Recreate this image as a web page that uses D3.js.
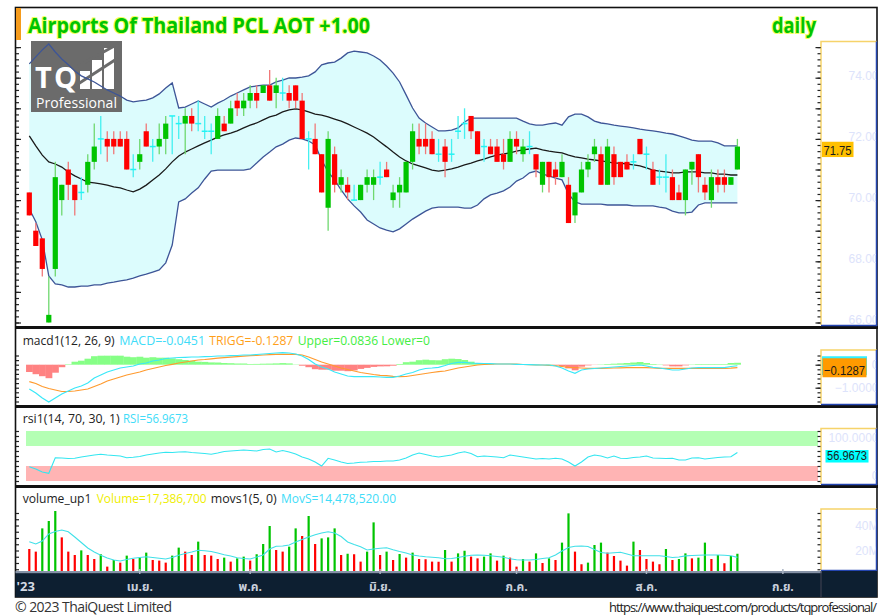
<!DOCTYPE html>
<html>
<head>
<meta charset="utf-8">
<script src="https://cdn.jsdelivr.net/npm/d3@7"></script>
<style>
  body { margin: 0; background: #fff; }
  svg { display: block; font-family: "Open Sans", "Noto Sans", sans-serif; }
</style>
</head>
<body>
<svg id="chart" width="882" height="616"></svg>
<script>
const svg = d3.select('#chart');

// ---- Dados
const openP = [70.25,69.0,68.75,66.0,67.75,70.0,71.0,70.5,70.25,70.5, 71.25,72.0,72.0,72.0,72.0,72.0,71.0,71.25,72.25,71.75,
  71.75,72.0,72.75,72.5,72.5,72.75,72.5,72.25,72.25,72.0, 72.5,72.5,73.25,73.0,73.25,73.5,73.5,73.75,73.5,73.5,
  73.5,73.75,73.25,72.0,72.0,71.5,69.75,71.5,70.5,70.5, 70.0,70.0,70.5,70.5,70.75,71.0,70.0,70.25,70.25,71.25,
  72.0,72.0,72.0,71.5,71.75,71.5,72.25,72.5,72.75,72.25, 71.75,71.75,71.75,71.5,71.25,72.0,71.5,71.75,71.5,70.5,
  71.25,71.0,70.75,70.5,69.5,70.25,71.0,71.5,71.5,70.5, 71.5,71.25,71.25,71.25,72.0,71.5,71.0,70.75,70.75,70.75,
  70.25,70.0,71.0,71.5,70.5,70.0,70.75,70.75,70.5,71.0];
const highP = [70.25,69.25,68.75,67.5,71.25,70.5,71.25,70.5,70.75,71.5, 72.5,72.75,72.25,72.25,72.25,72.25,71.5,72.0,72.5,72.0,
  72.5,72.75,72.75,72.75,73.0,73.0,73.25,72.75,72.5,73.0, 72.75,73.25,73.5,73.5,73.75,73.75,73.75,74.25,74.0,74.0,
  73.75,73.75,73.5,72.25,72.5,71.5,72.25,71.75,71.0,70.75, 70.5,70.5,71.0,71.0,71.25,71.25,70.5,70.75,71.25,72.5,
  72.5,72.5,72.25,72.0,72.0,72.0,72.75,73.0,72.75,72.25, 72.0,72.0,72.0,72.0,72.25,72.25,72.0,72.25,71.5,71.25,
  71.25,71.25,71.5,70.75,70.25,71.25,71.5,72.0,71.75,72.0, 71.75,71.25,71.5,71.5,72.0,71.75,71.25,71.0,71.5,71.0,
  70.5,71.0,71.25,71.5,70.75,71.0,71.0,71.0,70.75,72.0];
const lowP = [69.5,68.5,67.5,66.0,67.5,69.5,70.0,69.5,70.0,70.25, 71.0,71.5,71.25,71.5,71.75,71.0,70.75,71.0,71.75,71.25,
  71.5,71.5,71.5,72.0,71.5,72.25,72.25,72.0,71.5,72.0, 72.25,72.5,72.75,72.75,73.0,73.0,73.5,73.25,73.0,73.25,
  73.0,73.0,72.0,71.0,71.5,70.25,69.0,70.25,70.25,70.0, 70.0,70.0,70.25,70.0,70.5,70.75,69.75,69.75,70.25,71.0,
  71.5,71.5,71.5,71.25,70.75,71.25,72.0,72.0,72.0,71.5, 71.25,71.5,71.25,71.0,71.25,71.5,71.25,71.5,70.75,70.25,
  70.25,70.5,70.75,69.25,69.25,70.25,70.75,71.25,70.5,70.5, 70.5,70.75,71.0,71.0,71.5,71.0,70.5,70.5,70.25,70.0,
  70.0,69.5,70.5,70.25,70.0,69.75,70.25,70.25,70.5,71.0];
const closeP = [69.5,68.5,67.75,66.25,70.75,70.5,70.5,70.0,70.25,71.25, 71.75,72.0,71.75,71.75,71.75,71.0,71.0,71.5,71.75,71.75,
  72.0,72.5,72.75,72.5,72.75,72.5,72.5,72.25,72.25,72.75, 72.25,73.0,73.0,73.25,73.5,73.25,73.75,73.25,73.75,73.5,
  73.25,73.25,72.0,72.0,71.5,70.25,72.0,70.5,70.75,70.25, 70.0,70.5,70.75,70.75,70.75,70.75,70.25,70.5,71.25,72.25,
  71.75,71.75,71.5,71.5,71.25,71.5,72.25,72.5,72.25,71.5, 71.75,71.5,71.25,71.25,72.0,71.75,71.75,71.75,71.0,71.25,
  70.75,70.75,71.25,69.25,70.25,71.0,71.25,71.75,70.5,71.75, 70.75,70.75,71.0,71.25,71.5,71.5,70.5,70.75,70.75,70.0,
  70.0,71.0,71.25,70.75,70.25,70.75,70.5,70.5,70.75,71.75];

// Bandas de Bollinger
const bbUpper = [74.45,74.68,74.91,75.10,74.84,74.61,74.42,74.22,74.06,73.96, 73.86,73.73,73.60,73.50,73.40,73.27,73.21,73.24,73.27,73.34,
  73.47,73.66,73.83,73.01,73.04,73.14,73.24,73.14,73.04,73.17, 73.27,73.40,73.50,73.60,73.70,73.73,73.76,73.76,73.86,73.92,
  73.99,73.99,74.02,74.06,74.19,74.42,74.48,74.51,74.64,74.81, 74.87,74.84,74.81,74.71,74.58,74.38,74.15,73.86,73.44,73.01,
  72.68,72.52,72.39,72.26,72.26,72.29,72.36,72.55,72.68,72.68, 72.68,72.68,72.68,72.68,72.68,72.68,72.58,72.49,72.45,72.45,
  72.49,72.52,72.45,72.72,72.81,72.81,72.72,72.58,72.52,72.49, 72.45,72.42,72.39,72.36,72.32,72.29,72.26,72.23,72.19,72.16,
  72.10,72.03,71.96,71.93,71.93,71.93,71.87,71.77,71.77,71.77];
const bbMid = [72.10,71.77,71.47,71.25,71.18,71.08,70.92,70.79,70.69,70.59, 70.56,70.53,70.49,70.43,70.40,70.33,70.27,70.36,70.49,70.66,
  70.82,71.02,71.25,71.44,71.57,71.67,71.77,71.87,71.96,72.06, 72.13,72.19,72.26,72.36,72.45,72.52,72.62,72.72,72.78,72.88,
  72.95,72.98,72.95,72.88,72.81,72.78,72.72,72.65,72.58,72.49, 72.39,72.29,72.19,72.06,71.90,71.74,71.57,71.41,71.28,71.18,
  71.12,71.05,70.98,70.95,70.98,71.02,71.08,71.15,71.21,71.28, 71.34,71.41,71.47,71.51,71.54,71.60,71.64,71.67,71.70,71.64,
  71.60,71.57,71.54,71.47,71.41,71.38,71.34,71.31,71.28,71.25, 71.21,71.21,71.18,71.15,71.12,71.05,70.98,70.95,70.92,70.89,
  70.89,70.92,70.92,70.92,70.89,70.89,70.85,70.85,70.82,70.82];
const bbLower = [69.71,69.29,68.70,67.52,67.26,67.23,67.16,67.16,67.19,67.19, 67.23,67.23,67.29,67.32,67.36,67.39,67.45,67.52,67.58,67.65,
  67.72,67.95,68.53,69.94,70.04,70.23,70.40,70.69,70.95,70.98, 70.98,70.98,70.98,70.98,71.02,71.21,71.41,71.57,71.74,71.83,
  71.96,72.03,72.00,71.93,71.80,71.31,70.92,70.66,70.33,70.04, 69.81,69.61,69.35,69.22,69.09,69.02,68.96,69.06,69.22,69.38,
  69.51,69.64,69.74,69.77,69.77,69.77,69.77,69.74,69.74,69.84, 70.04,70.17,70.23,70.30,70.43,70.62,70.72,70.89,70.95,70.85,
  70.79,70.72,70.66,70.20,69.94,69.87,69.87,69.87,69.87,69.84, 69.84,69.84,69.84,69.81,69.81,69.81,69.81,69.77,69.74,69.64,
  69.58,69.58,69.61,69.84,69.91,69.91,69.91,69.91,69.91,69.91];

// MACD (12, 26, 9)
const macdLine = [-1.057,-1.230,-1.448,-1.622,-1.448,-1.274,-1.143,-1.013,-0.926,-0.796, -0.578,-0.448,-0.317,-0.230,-0.143,-0.100,-0.057,0.030,0.074,0.161,
  0.204,0.270,0.291,0.313,0.322,0.335,0.335,0.348,0.357,0.378, 0.378,0.391,0.400,0.422,0.422,0.443,0.465,0.487,0.509,0.522,
  0.509,0.465,0.378,0.226,0.030,-0.100,-0.187,-0.317,-0.404,-0.491, -0.522,-0.522,-0.522,-0.522,-0.535,-0.548,-0.548,-0.491,-0.404,-0.339,
  -0.230,-0.165,-0.143,-0.113,-0.035,0.052,0.104,0.104,0.074,0.061, 0.052,0.043,0.030,0.030,0.030,0.017,0.009,0.000,-0.004,-0.013,
  -0.013,-0.057,-0.143,-0.274,-0.374,-0.230,-0.187,-0.165,-0.143,-0.122, -0.100,-0.078,-0.057,-0.035,-0.013,-0.057,-0.113,-0.143,-0.187,-0.230,
  -0.230,-0.187,-0.143,-0.130,-0.130,-0.130,-0.130,-0.130,-0.078,-0.0451];
const macdSignal = [-0.739,-0.817,-0.948,-1.035,-1.100,-1.165,-1.165,-1.143,-1.100,-1.057, -0.948,-0.839,-0.709,-0.622,-0.535,-0.448,-0.383,-0.317,-0.230,-0.165,
  -0.100,-0.035,0.017,0.074,0.117,0.161,0.204,0.226,0.257,0.283, 0.304,0.326,0.348,0.370,0.391,0.409,0.422,0.439,0.452,0.452,
  0.452,0.452,0.422,0.335,0.226,0.117,0.030,-0.057,-0.143,-0.209, -0.274,-0.339,-0.383,-0.426,-0.461,-0.478,-0.504,-0.522,-0.513,-0.470,
  -0.426,-0.383,-0.339,-0.304,-0.274,-0.209,-0.143,-0.100,-0.057,-0.013, 0.009,0.022,0.030,0.030,0.030,0.022,0.009,0.000,-0.013,-0.013,
  -0.026,-0.043,-0.078,-0.113,-0.130,-0.143,-0.157,-0.157,-0.157,-0.152, -0.143,-0.135,-0.130,-0.130,-0.130,-0.130,-0.143,-0.157,-0.157,-0.157,
  -0.157,-0.157,-0.157,-0.157,-0.157,-0.157,-0.157,-0.157,-0.152,-0.1287];

// RSI (14)
const rsiLine = [28.6,24,18,15.4,46.6,46,45,45.4,48,50, 52,53.4,52,51,50,46.6,47.4,49,52,54,
  56,57.4,57,58,58.6,57,56,55,53.4,56, 59,60,61,62,61,60,63,64,58,61,
  58,54,48,44,38,30,45.4,42,38,35, 36,37.4,38,39,39,40,40,42,46,52,
  56,53,50,48,50,52,56,58.6,55,48.6, 50,49,48,46.6,52,50,48,46,44,45,
  44,45.4,44,38,30,38,48,52,50,46, 50,45.4,45,47,48,50,46,45.4,45,45.4,
  42,42,46,46.6,44,45.4,47,48,48.6,56.9673];

// Volume (milhões) e média móvel movs1(5)
const volumeM = [21.2,19.1,37.7,43.6,51.6,30.5,19.1,16.4,20.1,16.4, 13.2,17.0,7.1,12.4,10.3,15.9,13.2,14.3,18.3,12.4,
  11.9,10.3,15.9,22.3,19.1,16.4,27.1,16.4,15.9,13.2, 14.3,11.1,13.7,15.1,11.9,17.0,25.2,39.6,20.4,19.1,
  23.1,37.7,31.6,47.6,25.2,29.7,30.5,37.7,16.4,17.4, 17.0,11.1,19.1,42.5,16.4,19.1,12.4,17.2,14.3,18.3,
  13.2,13.0,11.1,11.0,20.4,11.1,17.7,19.8,15.1,13.7, 15.1,17.7,11.9,15.9,14.3,7.1,13.2,11.1,17.7,10.0,
  13.7,12.4,26.3,49.7,19.1,9.0,10.3,24.4,26.3,18.3, 15.6,11.9,7.9,27.1,20.4,13.2,11.1,9.0,21.2,12.4,
  13.2,17.7,13.7,14.3,26.3,13.2,16.4,9.8,15.6,17.3867];
const movsM = [27.0,25.2,27.6,33.2,35.2,36.4,35.0,30.8,26.4,22.0, 18.8,16.2,14.0,12.4,11.6,12.8,13.8,14.4,15.0,14.4,
  13.8,13.2,14.4,16.2,17.6,18.8,20.2,19.8,19.2,18.0, 16.6,15.6,14.2,13.6,13.2,14.8,16.4,21.2,23.4,23.6,
  24.4,26.8,28.8,30.8,32.6,34.0,35.0,34.0,31.2,26.8, 24.8,23.0,20.4,21.2,21.8,22.2,20.6,19.2,18.0,16.4,
  15.6,15.0,14.6,14.2,13.4,13.6,14.4,15.4,16.2,16.4, 16.2,15.8,15.2,14.6,13.4,12.6,12.4,12.4,12.8,13.6,
  14.2,16.4,19.6,22.4,23.4,23.6,23.2,20.8,18.4,17.8, 18.2,18.6,17.2,15.8,15.8,15.8,15.8,15.8,15.2,14.4,
  14.8,15.7,16.0,16.2,16.4,16.4,16.4,16.2,15.8,14.47852];

// Eixo de datas
const monthLabels = ['เม.ย.', 'พ.ค.', 'มิ.ย.', 'ก.ค.', 'ส.ค.', 'ก.ย.'];
const monthIdx = [17, 34, 54, 75, 95, 116];
const priceTicks = [66, 68, 70, 72, 74];
const macdTicks = [0, -1];
const rsiTicks = [100, 0];
const volTicks = [20, 40];

const n = closeP.length;
const last = n - 1;

// ---- Escalas
const x = d3.scaleLinear().domain([0, last]).range([29.3, 737.4]);
const yPrice = d3.scaleLinear().domain([66, 74]).range([322.5, 77.7]);
const yMacd = d3.scaleLinear().domain([-1, 0]).range([387.7, 364.7]);
const yRsi = d3.scaleLinear().domain([0, 100]).range([481, 431]);
const yVol = d3.scaleLinear().domain([0, 20]).range([575.5, 550.5]);
const step = x(1) - x(0);

const axisX = 821;
const axisFont = '"Liberation Sans", Arial, sans-serif';
const panels = {
  main: { top: 41, bottom: 326, boxTop: 41.5 },
  macd: { top: 329, bottom: 405, boxTop: 350 },
  rsi: { top: 408, bottom: 485, boxTop: 428.5 },
  vol: { top: 488, bottom: 571, boxTop: 509 }
};

svg.append('rect').attr('width', 882).attr('height', 616).attr('fill', '#fff');

const defs = svg.append('defs');
Object.entries(panels).forEach(([k, p]) => {
  defs.append('clipPath').attr('id', 'clip-' + k)
    .append('rect').attr('x', 16).attr('y', p.top).attr('width', axisX - 16).attr('height', p.bottom - p.top);
  defs.append('clipPath').attr('id', 'clipbox-' + k)
    .append('rect').attr('x', axisX).attr('y', p.boxTop).attr('width', 55).attr('height', p.bottom - p.boxTop);
});

// ---- Painel principal
const gMain = svg.append('g').attr('clip-path', 'url(#clip-main)');

gMain.append('path')
  .datum(d3.range(n))
  .attr('fill', '#dcfcfd')
  .attr('d', d3.area().x(i => x(i)).y0(i => yPrice(bbLower[i])).y1(i => yPrice(bbUpper[i])));

// logo TQ Professional
const logo = gMain.append('g');
logo.append('rect').attr('x', 31).attr('y', 39).attr('width', 91).attr('height', 73).attr('fill', '#6b6b6b');
logo.append('text').attr('x', 35).attr('y', 88).attr('fill', '#fff')
  .style('font-size', '29px').style('font-weight', 'bold').attr('textLength', 42).text('TQ');
[[80, 71], [92, 60], [104, 48]].forEach(([bx, by]) => {
  logo.append('rect').attr('x', bx).attr('y', by).attr('width', 10).attr('height', 89 - by).attr('fill', '#fff');
});
logo.append('line').attr('x1', 78).attr('y1', 84).attr('x2', 118).attr('y2', 58)
  .attr('stroke', '#6b6b6b').attr('stroke-width', 3);
logo.append('line').attr('x1', 78).attr('y1', 66).attr('x2', 118).attr('y2', 44)
  .attr('stroke', '#6b6b6b').attr('stroke-width', 3);
logo.append('text').attr('x', 36).attr('y', 108).attr('fill', '#fff')
  .style('font-size', '14px').attr('textLength', 81).text('Professional');

const lineOf = (arr, scale) => d3.line().x((d, i) => x(i)).y(d => scale(d))(arr);
gMain.append('path').attr('d', lineOf(bbUpper, yPrice)).attr('fill', 'none').attr('stroke', '#3d5597').attr('stroke-width', 1.3);
gMain.append('path').attr('d', lineOf(bbLower, yPrice)).attr('fill', 'none').attr('stroke', '#3d5597').attr('stroke-width', 1.3);
gMain.append('path').attr('d', lineOf(bbMid, yPrice)).attr('fill', 'none').attr('stroke', '#1a1a1a').attr('stroke-width', 1.3);

// velas
const candles = d3.range(n).map(i => ({ i, o: openP[i], h: highP[i], l: lowP[i], c: closeP[i] }));
const bodyCol = d => d.c > d.o ? '#00c400' : (d.c < d.o ? '#ff0000' : '#22f4f4');
const wickCol = d => d.c > d.o ? '#6fd86f' : (d.c < d.o ? '#f07878' : '#44f0f0');

const gC = gMain.append('g');
gC.selectAll('line.wick').data(candles).enter().append('line')
  .attr('class', 'wick')
  .attr('x1', d => x(d.i)).attr('x2', d => x(d.i))
  .attr('y1', d => yPrice(d.h)).attr('y2', d => yPrice(d.l))
  .attr('stroke', wickCol).attr('stroke-width', 1.3);
gC.selectAll('rect.body').data(candles.filter(d => d.o !== d.c)).enter().append('rect')
  .attr('class', 'body')
  .attr('x', d => x(d.i) - 2.6).attr('width', 5.2)
  .attr('y', d => yPrice(Math.max(d.o, d.c)))
  .attr('height', d => Math.max(1, yPrice(Math.min(d.o, d.c)) - yPrice(Math.max(d.o, d.c))))
  .attr('fill', bodyCol);
gC.selectAll('line.doji').data(candles.filter(d => d.o === d.c)).enter().append('line')
  .attr('class', 'doji')
  .attr('x1', d => x(d.i) - 3).attr('x2', d => x(d.i) + 3)
  .attr('y1', d => yPrice(d.c)).attr('y2', d => yPrice(d.c))
  .attr('stroke', bodyCol).attr('stroke-width', 1.5);

// ---- MACD
const gMacd = svg.append('g').attr('clip-path', 'url(#clip-macd)');
gMacd.selectAll('rect').data(d3.range(n)).enter().append('rect')
  .attr('x', i => x(i) - step / 2).attr('width', step + 0.3)
  .attr('y', i => Math.min(yMacd(0), yMacd(macdLine[i] - macdSignal[i])))
  .attr('height', i => Math.abs(yMacd(macdLine[i] - macdSignal[i]) - yMacd(0)))
  .attr('fill', i => macdLine[i] - macdSignal[i] >= 0 ? '#86ff86' : '#ff8282');
gMacd.append('path').attr('d', lineOf(macdSignal, yMacd)).attr('fill', 'none').attr('stroke', '#ff9a2e').attr('stroke-width', 1.2);
gMacd.append('path').attr('d', lineOf(macdLine, yMacd)).attr('fill', 'none').attr('stroke', '#3ae8f8').attr('stroke-width', 1.2);

// ---- RSI
const gRsi = svg.append('g').attr('clip-path', 'url(#clip-rsi)');
gRsi.append('rect').attr('x', 26).attr('width', 792).attr('y', yRsi(100)).attr('height', yRsi(70) - yRsi(100)).attr('fill', '#b4ffb4');
gRsi.append('rect').attr('x', 26).attr('width', 792).attr('y', yRsi(30)).attr('height', yRsi(0) - yRsi(30)).attr('fill', '#ffb4b4');
gRsi.append('path').attr('d', lineOf(rsiLine, yRsi)).attr('fill', 'none').attr('stroke', '#33e6f0').attr('stroke-width', 1.1);

// ---- Volume
const gVol = svg.append('g').attr('clip-path', 'url(#clip-vol)');
gVol.selectAll('rect').data(d3.range(n)).enter().append('rect')
  .attr('x', i => x(i) - 1.1).attr('width', 2.2)
  .attr('y', i => yVol(volumeM[i]))
  .attr('height', i => yVol(0) - yVol(volumeM[i]))
  .attr('fill', i => i > 0 && volumeM[i] > volumeM[i - 1] ? '#00c400' : '#ff0000');
gVol.append('path').attr('d', lineOf(movsM, yVol)).attr('fill', 'none').attr('stroke', '#40e0e8').attr('stroke-width', 1.1);

// ---- Moldura e separadores
svg.append('rect').attr('x', 15.5).attr('y', 7.5).attr('width', 861.5).attr('height', 589.5)
  .attr('fill', 'none').attr('stroke', '#111').attr('stroke-width', 1.6);
svg.append('rect').attr('x', 16).attr('y', 8).attr('width', 5).attr('height', 32).attr('fill', '#f59b1c');
[326, 405, 485].forEach(yy => {
  svg.append('rect').attr('x', 15).attr('y', yy).attr('width', 863).attr('height', 3).attr('fill', '#111');
});

// ---- Caixas dos eixos + ticks
function ticks(scale, vals, xPos, side, size) {
  const ax = (side === 'left' ? d3.axisLeft(scale) : d3.axisRight(scale)).tickValues(vals).tickSize(size).tickFormat('');
  const g = svg.append('g').attr('transform', `translate(${xPos},0)`).call(ax);
  g.select('.domain').remove();
  g.selectAll('line').attr('stroke', '#222').attr('stroke-width', 1.2);
}
function labels(key, scale, vals, fmt, dyFn) {
  const outer = svg.append('g').attr('clip-path', `url(#clipbox-${key})`);
  const g = outer.append('g').attr('transform', 'translate(878.5,0)')
    .call(d3.axisLeft(scale).tickValues(vals).tickSize(0).tickPadding(0).tickFormat(fmt));
  g.select('.domain').remove();
  g.attr('font-family', axisFont).attr('font-size', 12);
  g.selectAll('text').attr('fill', '#dde3fb').attr('dy', d => dyFn ? dyFn(d) : '0.32em');
}
function axisBox(p) {
  svg.append('rect').attr('x', axisX).attr('y', p.boxTop).attr('width', 55.5).attr('height', p.bottom - p.boxTop - 1)
    .attr('fill', '#fff');
  svg.append('path').attr('d', `M${axisX},${p.bottom - 1}V${p.boxTop}H${axisX + 55.5}`)
    .attr('fill', 'none').attr('stroke', '#f6d36a').attr('stroke-width', 1.5);
  svg.append('path').attr('d', `M${axisX + 55.5},${p.boxTop}V${p.bottom - 0.5}H${axisX}`)
    .attr('fill', 'none').attr('stroke', '#2445b0').attr('stroke-width', 1.5);
}
const inRange = (vals, scale, p) => vals.filter(v => scale(v) >= p.top + 1 && scale(v) <= p.bottom - 1);

const minorPrice = inRange(d3.range(0, 46).map(k => 66 + k * 0.2), yPrice, panels.main);
const minorMacd = inRange(d3.range(-12, 5).map(k => k * 0.2), yMacd, { top: panels.macd.boxTop, bottom: 405 });
const minorRsi = inRange(d3.range(0, 11).map(k => k * 10), yRsi, { top: panels.rsi.boxTop, bottom: 485 });
const minorVol = inRange(d3.range(0, 14).map(k => k * 5), yVol, { top: panels.vol.boxTop, bottom: 571 });

axisBox(panels.main); axisBox(panels.macd); axisBox(panels.rsi); axisBox(panels.vol);

ticks(yPrice, minorPrice, axisX - 0.5, 'left', 3);
ticks(yPrice, minorPrice.filter(v => Math.abs(v - Math.round(v)) < 0.01), axisX - 0.5, 'left', 5);
ticks(yPrice, minorPrice, 16, 'right', 3);
ticks(yPrice, minorPrice.filter(v => Math.abs(v - Math.round(v)) < 0.01), 16, 'right', 5);
ticks(yMacd, minorMacd, axisX - 0.5, 'left', 3);
ticks(yMacd, [0, -1], axisX - 0.5, 'left', 5);
ticks(yMacd, minorMacd, 16, 'right', 3);
ticks(yRsi, minorRsi, axisX - 0.5, 'left', 3);
ticks(yRsi, minorRsi, 16, 'right', 3);
ticks(yVol, minorVol, axisX - 0.5, 'left', 3);
ticks(yVol, minorVol, 16, 'right', 3);

labels('main', yPrice, priceTicks, d3.format('.2f'), () => '0.12em');
labels('macd', yMacd, macdTicks, d => d === 0 ? '0' : d3.format('.4f')(d));
labels('rsi', yRsi, rsiTicks, d => d === 0 ? '0' : d3.format('.4f')(d), d => d === 100 ? '0.9em' : '-0.15em');
labels('vol', yVol, volTicks, d => d + 'M');

// caixas de valor atual
function valueBox(x0, yTop, w, h, fill, txt, tl, fs) {
  svg.append('rect').attr('x', x0).attr('y', yTop).attr('width', w).attr('height', h).attr('fill', fill);
  svg.append('text').attr('x', x0 + 1.5).attr('y', yTop + h - 2.5).attr('fill', '#1a1a1a')
    .style('font-family', axisFont).style('font-size', fs + 'px')
    .attr('textLength', tl).attr('lengthAdjust', 'spacingAndGlyphs').text(txt);
}
valueBox(822, yPrice(closeP[last]) - 4.8, 31.5, 15.3, '#ffc000', d3.format('.2f')(closeP[last]), 28, 13);
svg.append('rect').attr('x', 822).attr('y', yMacd(macdLine[last]) - 9.5).attr('width', 45).attr('height', 19).attr('fill', '#33f0ff');
valueBox(822.5, yMacd(macdSignal[last]) - 9.4, 44, 19, '#ff9a00', d3.format('.4f')(macdSignal[last]), 41, 13.5);
valueBox(825.5, yRsi(rsiLine[last]) - 2.5, 43, 12.5, '#00ffff', d3.format('.4f')(rsiLine[last]), 40, 12.5);

// ---- Eixo de datas
svg.append('rect').attr('x', 15.5).attr('y', 571).attr('width', 861.5).attr('height', 26).attr('fill', '#0d1f31');
svg.append('rect').attr('x', 15.5).attr('y', 571).attr('width', 806).attr('height', 2.2).attr('fill', '#8592a6');
svg.append('line').attr('x1', axisX).attr('x2', axisX).attr('y1', 571).attr('y2', 597).attr('stroke', '#445').attr('stroke-width', 1);
const gDates = svg.append('g');
gDates.selectAll('line').data(monthIdx).enter().append('line')
  .attr('x1', d => x(d)).attr('x2', d => x(d)).attr('y1', 569).attr('y2', 574)
  .attr('stroke', '#aab4c4').attr('stroke-width', 1.5);
gDates.selectAll('text').data(monthLabels).enter().append('text')
  .attr('x', (d, k) => x(monthIdx[k])).attr('y', 591)
  .attr('text-anchor', 'middle').attr('fill', '#c9d0dc')
  .style('font-size', '12px').style('font-weight', 'bold')
  .style('font-family', '"Noto Sans Thai", "Noto Sans", "DejaVu Sans", sans-serif')
  .text(d => d);
gDates.append('text').attr('x', 16.5).attr('y', 591).attr('fill', '#d4dae4')
  .style('font-size', '13px').style('font-weight', 'bold').text("'23");

// ---- Títulos e rótulos dos painéis
const title = svg.append('g').style('font-weight', 'bold').style('font-size', '21px')
  .attr('fill', '#00c400').attr('stroke', '#f0ff60').attr('stroke-width', 2).attr('paint-order', 'stroke');
const chg = closeP[last] - closeP[last - 1];
title.append('text').attr('x', 28).attr('y', 33).attr('textLength', 342).attr('lengthAdjust', 'spacingAndGlyphs')
  .text(`Airports Of Thailand PCL AOT ${chg >= 0 ? '+' : ''}${chg.toFixed(2)}`);
title.append('text').attr('x', 772).attr('y', 33).attr('textLength', 44).attr('lengthAdjust', 'spacingAndGlyphs').text('daily');

function legend(yBase, parts) {
  parts.forEach(([txt, col, x0, w]) => {
    svg.append('text').attr('x', x0).attr('y', yBase).attr('fill', col)
      .style('font-size', '13px').attr('textLength', w).attr('lengthAdjust', 'spacingAndGlyphs').text(txt);
  });
}
const upper = macdLine[last] - macdSignal[last];
legend(344.5, [
  ['macd1(12, 26, 9)', '#222', 22.7, 92],
  [`MACD=${macdLine[last].toFixed(4)}`, '#40dcf8', 119.3, 85.7],
  [`TRIGG=${macdSignal[last].toFixed(4)}`, '#ff9f1a', 209.3, 84],
  [`Upper=${upper.toFixed(4)} Lower=0`, '#44ee44', 297.7, 132.3]
]);
legend(423, [
  ['rsi1(14, 70, 30, 1)', '#222', 22.7, 97],
  [`RSI=${rsiLine[last].toFixed(4)}`, '#40dcf8', 123, 65]
]);
legend(503, [
  ['volume_up1', '#222', 22.7, 68.7],
  [`Volume=${d3.format(',')(Math.round(volumeM[last] * 1e6))}`, '#eeee00', 96.7, 110],
  ['movs1(5, 0)', '#222', 210.7, 66],
  [`MovS=${d3.format(',.2f')(Math.round(movsM[last] * 1e6))}`, '#40dcf8', 281, 115]
]);

// ---- Rodapé
svg.append('text').attr('x', 15).attr('y', 611.5).attr('fill', '#333')
  .style('font-size', '14px').attr('textLength', 157).text('© 2023 ThaiQuest Limited');
svg.append('text').attr('x', 877).attr('y', 611.5).attr('text-anchor', 'end').attr('fill', '#222')
  .style('font-size', '13px').attr('textLength', 268).text('https://www.thaiquest.com/products/tqprofessional/');
</script>
</body>
</html>
